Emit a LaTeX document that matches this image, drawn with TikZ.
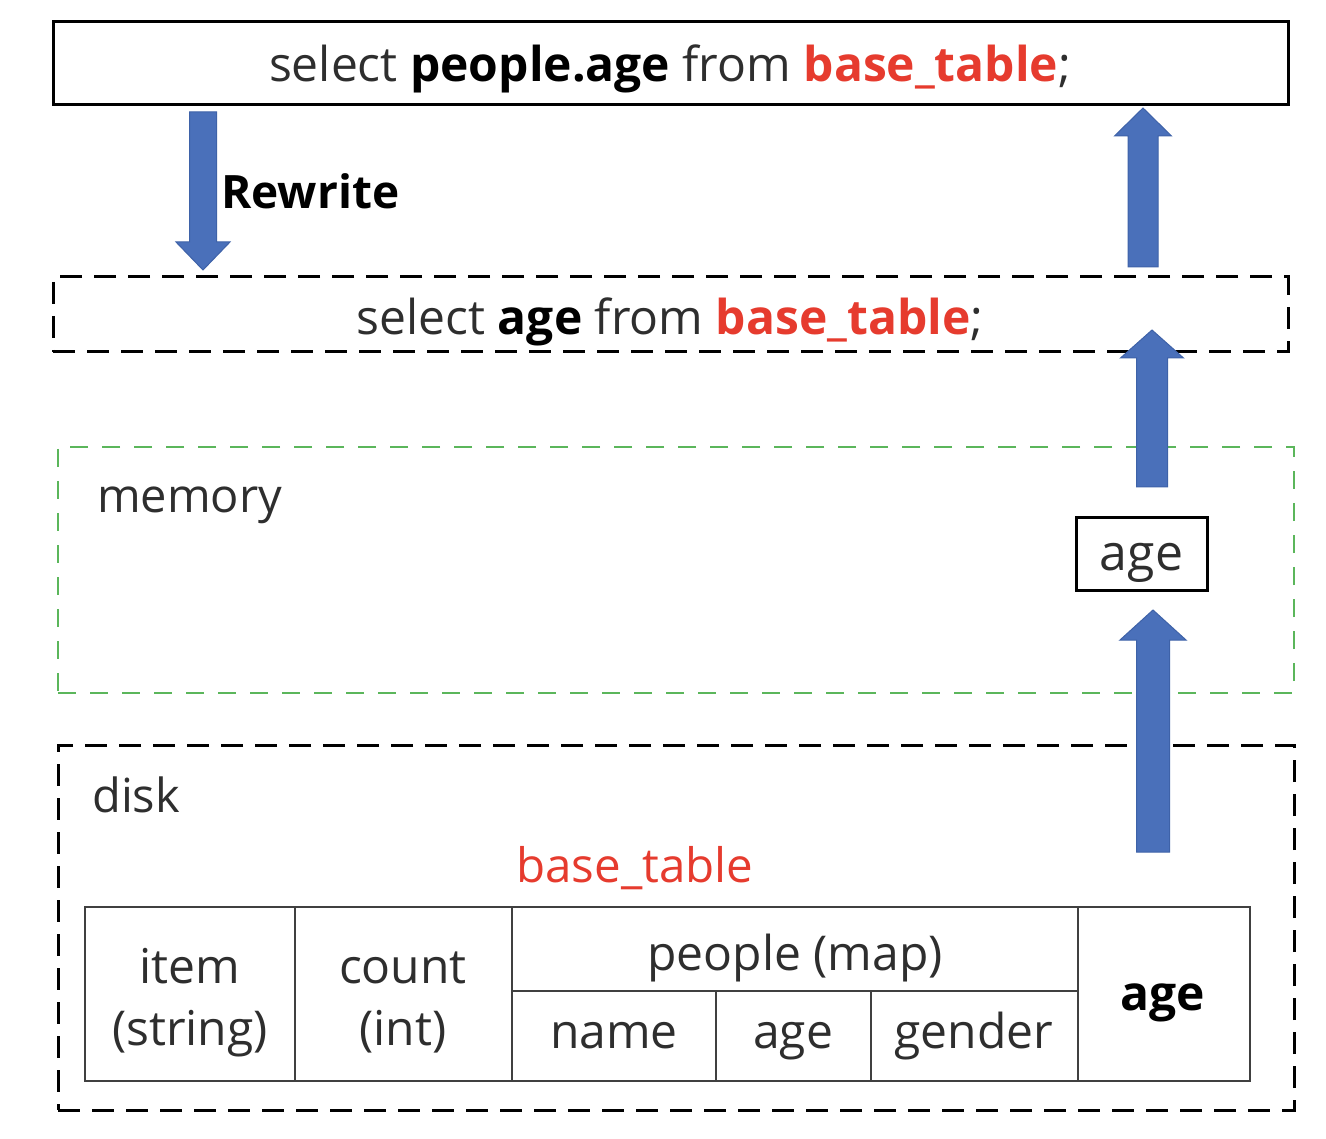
\documentclass[tikz,border=0pt]{standalone}
\usepackage{fontspec}
\setmainfont{Open Sans}
\definecolor{arrblue}{HTML}{4A70BA}
\definecolor{arredge}{HTML}{3E62A8}
\definecolor{sqlred}{HTML}{E63B2E}
\definecolor{memgreen}{HTML}{5BB65B}
\newcommand{\blockarrowup}[6]{% x, tip y, bottom y, shaft w, head w, head len
  \fill[arrblue, draw=arredge, line width=1pt]
    ({#1-#4/2},#3) -- ({#1-#4/2},{#2+#6}) -- ({#1-#5/2},{#2+#6}) -- (#1,#2)
    -- ({#1+#5/2},{#2+#6}) -- ({#1+#4/2},{#2+#6}) -- ({#1+#4/2},#3) -- cycle;}
\newcommand{\blockarrowdown}[6]{% x, tip y, top y, shaft w, head w, head len
  \fill[arrblue, draw=arredge, line width=1pt]
    ({#1-#4/2},#3) -- ({#1-#4/2},{#2-#6}) -- ({#1-#5/2},{#2-#6}) -- (#1,#2)
    -- ({#1+#5/2},{#2-#6}) -- ({#1+#4/2},{#2-#6}) -- ({#1+#4/2},#3) -- cycle;}
\begin{document}
\begin{tikzpicture}[x=1pt,y=-1pt,
  solidbox/.style={draw=black, line width=3pt, inner sep=0pt},
  dashbox/.style={draw=black, line width=3pt, dash pattern=on 22pt off 12pt, inner sep=0pt},
  greenbox/.style={draw=memgreen, line width=2.5pt, dash pattern=on 18pt off 14pt, inner sep=0pt},
  query/.style={font=\fontsize{48}{54}\selectfont, text=black!82, anchor=base, inner sep=0pt},
  lbl/.style={font=\fontsize{47}{54}\selectfont, text=black!82, anchor=base west, inner sep=0pt},
  cell/.style={font=\fontsize{48}{54}\selectfont, text=black!82, anchor=base, inner sep=0pt},
  tline/.style={draw=black!75, line width=2.5pt}]
\useasboundingbox (0,0) rectangle (1326,1139);
\fill[white] (0,0) rectangle (1326,1139);

% top query
\node[solidbox, minimum width=1235pt, minimum height=83pt] (top) at (670.5,63.5) {};
\node[query] (toptext) at (670,82) {select \textbf{\color{black}people.age} from \textcolor{sqlred}{\textbf{base\_table}};};

% rewritten query
\node[dashbox, minimum width=1235pt, minimum height=75pt] (rw) at (670.5,314.5) {};
\node[query] (rwtext) at (670,335) {select \textbf{\color{black}age} from \textcolor{sqlred}{\textbf{base\_table}};};

% memory
\node[greenbox, minimum width=1236pt, minimum height=246pt] (mem) at (676,570) {};
\node[lbl] (memlabel) at (97,512) {memory};
\node[draw=black, line width=3pt, minimum width=131pt, minimum height=73pt] (agebox) at (1141.5,553.5) {};
\node[cell, font=\fontsize{50}{56}\selectfont] (agetext) at (1141.5,570) {age};

% disk
\node[dashbox, minimum width=1236pt, minimum height=365pt] (disk) at (676,927.5) {};
\node[lbl] (disklabel) at (92,812) {disk};
\node[cell, font=\fontsize{47.5}{54}\selectfont, text=sqlred] (btlabel) at (635,882) {base\_table};

% table
\draw[tline] (85,907) rectangle (1250,1081);
\draw[tline] (295,907) -- (295,1081);
\draw[tline] (512,907) -- (512,1081);
\draw[tline] (1078,907) -- (1078,1081);
\draw[tline] (512,991) -- (1078,991);
\draw[tline] (716,991) -- (716,1081);
\draw[tline] (871,991) -- (871,1081);
\node[cell] (citema) at (190,983) {item};
\node[cell] (citemb) at (190,1045) {(string)};
\node[cell] (ccounta) at (403,983) {count};
\node[cell] (ccountb) at (403,1045) {(int)};
\node[cell] (cpeople) at (795,970) {people (map)};
\node[cell] (cname) at (614,1048) {name};
\node[cell] (cage) at (793,1048) {age};
\node[cell] (cgender) at (974,1048) {gender};
\node[cell, font=\fontsize{48}{54}\selectfont\bfseries, text=black] (cagebold) at (1163,1010) {age};

% arrows
\blockarrowdown{203}{270}{112}{27}{54}{28}
\node[font=\fontsize{46}{52}\selectfont\bfseries, anchor=base west, inner sep=0pt] (rwlabel) at (221,209) {Rewrite};
\blockarrowup{1143}{108}{267}{30}{57}{28}
\blockarrowup{1152}{330}{487}{31}{63}{28}
\blockarrowup{1153}{610}{852}{33}{66}{30}
\end{tikzpicture}
\end{document}
